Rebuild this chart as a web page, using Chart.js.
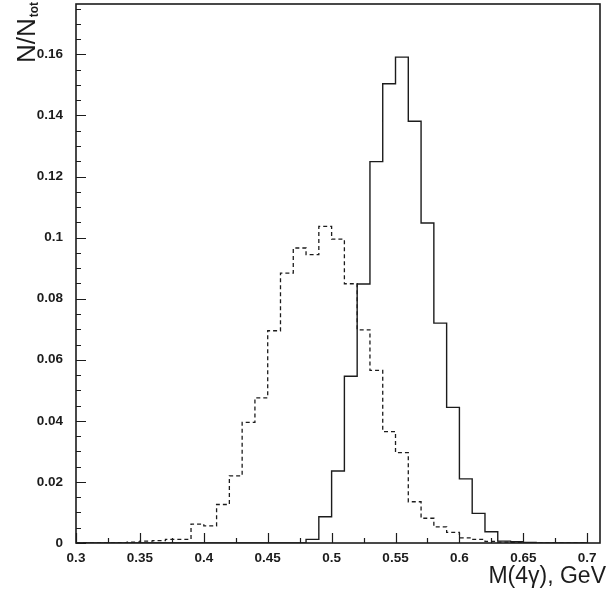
<!DOCTYPE html>
<html>
<head>
<meta charset="utf-8">
<script src="https://cdn.jsdelivr.net/npm/chart.js@4.4.0/dist/chart.umd.min.js"></script>
<style>
  body { margin: 0; background: #fff; }
</style>
</head>
<body>
<canvas id="hist" width="615" height="593"></canvas>
<script>
// lower edges of the 0.01 GeV bins
const binLow = [0.30, 0.31, 0.32, 0.33, 0.34, 0.35, 0.36, 0.37, 0.38, 0.39,
                0.40, 0.41, 0.42, 0.43, 0.44, 0.45, 0.46, 0.47, 0.48, 0.49,
                0.50, 0.51, 0.52, 0.53, 0.54, 0.55, 0.56, 0.57, 0.58, 0.59,
                0.60, 0.61, 0.62, 0.63, 0.64, 0.65, 0.66, 0.67, 0.68, 0.69];
const binWidth = 0.01;

// dashed histogram
const dashedVals = [0, 0, 0, 0.0001, 0.0003, 0.0006, 0.0008, 0.0012, 0.0012, 0.0062,
                    0.0056, 0.0126, 0.0220, 0.0395, 0.0475, 0.0695, 0.0884, 0.0966, 0.0944, 0.1037,
                    0.0995, 0.0849, 0.0698, 0.0565, 0.0365, 0.0296, 0.0135, 0.0081, 0.0053, 0.0035,
                    0.0017, 0.0012, 0.0005, 0.0003, 0.0001, 0, 0, 0, 0, 0];
// solid histogram
const solidVals = [0, 0, 0, 0, 0, 0, 0, 0, 0, 0,
                   0, 0, 0, 0, 0, 0, 0, 0, 0.0012, 0.0086,
                   0.0236, 0.0546, 0.0848, 0.1249, 0.1504, 0.1591, 0.1381, 0.1048, 0.0720, 0.0444,
                   0.0210, 0.0097, 0.0037, 0.0006, 0.0004, 0.0002, 0, 0, 0, 0];

const xTicks = [0.3, 0.35, 0.4, 0.45, 0.5, 0.55, 0.6, 0.65, 0.7];
const xTickLabels = ['0.3', '0.35', '0.4', '0.45', '0.5', '0.55', '0.6', '0.65', '0.7'];
const yTicks = [0, 0.02, 0.04, 0.06, 0.08, 0.1, 0.12, 0.14, 0.16];
const yTickLabels = ['0', '0.02', '0.04', '0.06', '0.08', '0.1', '0.12', '0.14', '0.16'];

const xTitle = 'M(4\u03b3), GeV';
const yTitle = 'N/N';
const yTitleSub = 'tot';

// points at the bin edges; the last one closes the last bin
function steps(vals) {
  const pts = binLow.map((x, i) => ({x: x, y: vals[i]}));
  pts.push({x: binLow[binLow.length - 1] + binWidth, y: vals[vals.length - 1]});
  return pts;
}

const ink = '#1c1c1c';
const sans = '"Liberation Sans", Arial, sans-serif';
const tickFont = {family: sans, size: 13.5, weight: 'bold'};

// frame, inward ticks and the axis titles
const paw = {
  id: 'paw',
  afterDatasetsDraw(chart) {
    const {ctx, chartArea: a, scales: {x, y}} = chart;
    ctx.save();
    ctx.strokeStyle = ink;
    ctx.lineWidth = 1.2;
    ctx.beginPath();
    for (let i = 0; i <= 16; i++) {
      const px = Math.round(x.getPixelForValue(0.3 + i * 0.025)) + 0.5;
      const len = i % 2 === 0 ? 10 : 5;
      ctx.moveTo(px, a.bottom); ctx.lineTo(px, a.bottom - len);
    }
    for (let i = 0; i <= 35; i++) {
      const py = Math.round(y.getPixelForValue(i * 0.005)) + 0.5;
      const len = i % 4 === 0 ? 10 : 5;
      ctx.moveTo(a.left, py); ctx.lineTo(a.left + len, py);
    }
    ctx.stroke();
    ctx.lineWidth = 1.6;
    ctx.strokeRect(a.left, a.top, a.right - a.left, a.bottom - a.top);
    ctx.restore();
  },
  afterDraw(chart) {
    const ctx = chart.ctx;
    ctx.save();
    ctx.fillStyle = ink;
    ctx.textBaseline = 'alphabetic';
    // x title, right aligned under the axis
    ctx.font = '23px ' + sans;
    ctx.textAlign = 'right';
    ctx.fillText(xTitle, 606, 583);
    // y title, rotated, with subscript
    ctx.textAlign = 'left';
    ctx.translate(35, 63);
    ctx.rotate(-Math.PI / 2);
    ctx.font = '26px ' + sans;
    ctx.fillText(yTitle, 0, 0);
    const w = ctx.measureText(yTitle).width;
    ctx.font = 'bold 12px ' + sans;
    ctx.fillText(yTitleSub, w + 1, 3);
    ctx.restore();
  }
};

new Chart(document.getElementById('hist'), {
  type: 'line',
  data: {
    datasets: [
      {
        label: 'dashed',
        data: steps(dashedVals),
        stepped: 'before',
        borderColor: ink,
        borderWidth: 1.3,
        borderDash: [4, 3],
        pointRadius: 0,
        fill: false
      },
      {
        label: 'solid',
        data: steps(solidVals),
        stepped: 'before',
        borderColor: ink,
        borderWidth: 1.4,
        pointRadius: 0,
        fill: false
      }
    ]
  },
  options: {
    responsive: false,
    devicePixelRatio: 1,
    animation: false,
    layout: {padding: {top: 4, right: 15, left: 0, bottom: 0}},
    plugins: {legend: {display: false}, tooltip: {enabled: false}},
    scales: {
      x: {
        type: 'linear',
        min: 0.3,
        max: 0.71,
        grid: {display: false, drawTicks: false},
        border: {display: false},
        afterBuildTicks: s => { s.ticks = xTicks.map(v => ({value: v})); },
        afterFit: s => { s.height = 50; s.paddingLeft = 0; s.paddingRight = 0; },
        ticks: {
          autoSkip: false, maxRotation: 0, padding: 7, color: ink, font: tickFont,
          callback: (v, i) => xTickLabels[i]
        }
      },
      y: {
        min: 0,
        max: 0.1765,
        grid: {display: false, drawTicks: false},
        border: {display: false},
        afterBuildTicks: s => { s.ticks = yTicks.map(v => ({value: v})); },
        afterFit: s => { s.width = 76; s.paddingTop = 0; s.paddingBottom = 0; },
        ticks: {
          autoSkip: false, padding: 13, color: ink, font: tickFont,
          callback: (v, i) => yTickLabels[i]
        }
      }
    }
  },
  plugins: [paw]
});
</script>
</body>
</html>
